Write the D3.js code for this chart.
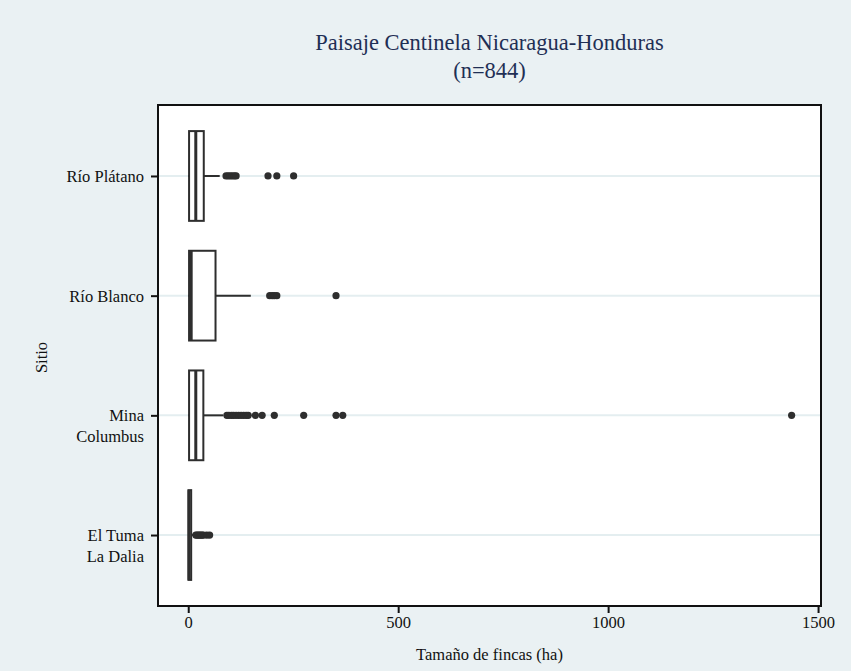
<!DOCTYPE html>
<html>
<head>
<meta charset="utf-8">
<script src="https://cdn.jsdelivr.net/npm/d3@7/dist/d3.min.js"></script>
<style>
  html, body { margin: 0; padding: 0; background: #eaf1f3; }
  svg { display: block; }
  text { font-family: "Liberation Serif", "DejaVu Serif", serif; }
</style>
</head>
<body>
<svg id="chart" width="851" height="671"></svg>
<script>
// Farm size (ha) by site: box-plot summaries and outlying farms
const sites       = ["Río Plátano", "Río Blanco", "Mina Columbus", "El Tuma La Dalia"];
const siteLines   = [["Río Plátano"], ["Río Blanco"], ["Mina", "Columbus"], ["El Tuma", "La Dalia"]];
const lowWhisker  = [0, 0, 0, 0];
const q1          = [2, 2, 2, 0.5];
const median      = [18, 7, 18, 2];
const q3          = [37, 65, 36, 7];
const highWhisker = [75, 149, 83, 15];
const outliers = [
  [90, 95, 100, 105, 110, 114, 190, 211, 251],
  [194, 200, 205, 211, 352],
  [92, 97, 103, 108, 114, 120, 126, 132, 138, 143, 160, 176, 205, 275, 352, 368, 1437],
  [18, 21, 24, 27, 30, 33, 36, 44, 51]
];
const xTicks = [0, 500, 1000, 1500];

const svg = d3.select("#chart");
const W = 851, H = 671;
const plot = { left: 158, right: 821, top: 105, bottom: 606 };
const ink = "#2e2e2e";
const labelSize = 16.5;

svg.append("rect").attr("width", W).attr("height", H).attr("fill", "#eaf1f3");

const x = d3.scaleLinear().domain([-72, 1507]).range([plot.left, plot.right]);
const y = d3.scalePoint().domain(sites).range([plot.top, plot.bottom]).padding(0.593);
const boxH = y.step() * 0.75;

// plot area
svg.append("rect")
  .attr("x", plot.left).attr("y", plot.top)
  .attr("width", plot.right - plot.left).attr("height", plot.bottom - plot.top)
  .attr("fill", "#ffffff");

// category gridlines
svg.append("g").selectAll("line").data(sites).join("line")
  .attr("x1", plot.left).attr("x2", plot.right)
  .attr("y1", d => y(d)).attr("y2", d => y(d))
  .attr("stroke", "#e4eef0").attr("stroke-width", 2);

const rows = sites.map((s, i) => ({
  site: s, lo: lowWhisker[i], q1: q1[i], med: median[i], q3: q3[i], hi: highWhisker[i], out: outliers[i]
}));

const g = svg.append("g").selectAll("g").data(rows).join("g")
  .attr("transform", d => `translate(0,${y(d.site)})`);

// whiskers
g.append("line")
  .attr("x1", d => x(d.q3)).attr("x2", d => x(d.hi))
  .attr("stroke", ink).attr("stroke-width", 2);
g.append("line")
  .attr("x1", d => x(d.lo)).attr("x2", d => x(d.q1))
  .attr("stroke", ink).attr("stroke-width", 2);

// boxes
g.append("rect")
  .attr("x", d => x(d.q1)).attr("y", -boxH / 2)
  .attr("width", d => Math.max(0, x(d.q3) - x(d.q1))).attr("height", boxH)
  .attr("fill", "#ffffff").attr("stroke", ink).attr("stroke-width", 2);

// medians
g.append("line")
  .attr("x1", d => x(d.med)).attr("x2", d => x(d.med))
  .attr("y1", -boxH / 2).attr("y2", boxH / 2)
  .attr("stroke", ink).attr("stroke-width", 3);

// outside values
g.selectAll("circle").data(d => d.out).join("circle")
  .attr("cx", d => x(d)).attr("cy", 0).attr("r", 3.6)
  .attr("fill", ink);

// frame
svg.append("rect")
  .attr("x", plot.left).attr("y", plot.top)
  .attr("width", plot.right - plot.left).attr("height", plot.bottom - plot.top)
  .attr("fill", "none").attr("stroke", "#111111").attr("stroke-width", 2);

// x axis
const xAxis = svg.append("g")
  .attr("transform", `translate(0,${plot.bottom})`)
  .call(d3.axisBottom(x).tickValues(xTicks).tickSize(7).tickPadding(3).tickFormat(d3.format("d")));
xAxis.select(".domain").remove();
xAxis.selectAll(".tick line").attr("stroke", "#111111").attr("stroke-width", 2);
xAxis.selectAll(".tick text")
  .attr("fill", "#111111").attr("font-size", labelSize)
  .style("font-family", '"Liberation Serif", serif');

// y axis
const yAxis = svg.append("g")
  .attr("transform", `translate(${plot.left},0)`)
  .call(d3.axisLeft(y).tickSize(7).tickFormat(""));
yAxis.select(".domain").remove();
yAxis.selectAll(".tick line").attr("stroke", "#111111").attr("stroke-width", 2);

const yLab = svg.append("g").selectAll("text").data(sites).join("text")
  .attr("x", plot.left - 14)
  .attr("y", d => y(d) + 6)
  .attr("text-anchor", "end")
  .attr("font-size", labelSize)
  .attr("fill", "#111111");
yLab.selectAll("tspan").data((d, i) => siteLines[i]).join("tspan")
  .attr("x", plot.left - 14)
  .attr("dy", (d, j) => j === 0 ? 0 : 21)
  .text(d => d);

// axis titles
svg.append("text")
  .attr("x", (plot.left + plot.right) / 2).attr("y", 660)
  .attr("text-anchor", "middle").attr("font-size", labelSize).attr("fill", "#111111")
  .text("Tamaño de fincas (ha)");

svg.append("text")
  .attr("transform", `translate(47,${(plot.top + plot.bottom) / 2 + 2}) rotate(-90)`)
  .attr("text-anchor", "middle").attr("font-size", labelSize).attr("fill", "#111111")
  .text("Sitio");

// title
const title = svg.append("text")
  .attr("x", (plot.left + plot.right) / 2).attr("y", 50)
  .attr("text-anchor", "middle").attr("font-size", 22.5).attr("fill", "#1f2f55");
title.append("tspan").attr("x", (plot.left + plot.right) / 2).attr("dy", 0)
  .text("Paisaje Centinela Nicaragua-Honduras");
title.append("tspan").attr("x", (plot.left + plot.right) / 2).attr("dy", 28)
  .text("(n=844)");
</script>
</body>
</html>
